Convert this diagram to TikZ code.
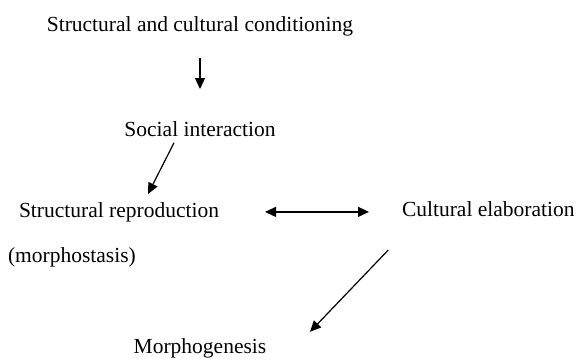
\documentclass[tikz,border=0pt]{standalone}
\usepackage{fontspec}
\setmainfont{Liberation Serif}
\usepackage{tikz}
\usetikzlibrary{arrows.meta, positioning}

\begin{document}
\begin{tikzpicture}[
        lbl/.style={inner sep=0pt, outer sep=0pt, text height=7.5pt, text depth=2.4pt, font=\fontsize{10.75pt}{13pt}\selectfont},
        arr/.style={-{Triangle[length=5.5pt, width=5pt]}, line width=0.6pt},
        darr/.style={{Triangle[length=5.5pt, width=5pt]}-{Triangle[length=5.5pt, width=5pt]}, line width=0.6pt}
      ]
        \useasboundingbox (0pt,0pt) rectangle (288pt,-179.5pt);

        \node[lbl, anchor=base] (cond) at (100pt,-15.5pt) {Structural and cultural conditioning};
        \node[lbl, below=42.6pt of cond] (inter) {Social interaction};
        \node[lbl, anchor=base west] (repro) at (9.5pt,-108.5pt) {Structural reproduction};
        \node[lbl, anchor=base west] (stasis) at (4pt,-131pt) {(morphostasis)};
        \node[lbl, anchor=base west] (elab) at (201pt,-108pt) {Cultural elaboration};
        \node[lbl, below=99pt of inter] (genesis) {Morphogenesis};

        \draw[arr, shorten <=11pt, shorten >=16pt] (cond.south) -- (cond.south |- inter.north);
        \draw[arr] ([xshift=-13pt, yshift=-1pt]inter.south) -- ([xshift=14.5pt, yshift=4pt]repro.north);
        \draw[darr, shorten <=23pt, shorten >=16.5pt] (repro.east) -- (repro.east -| elab.west);
        \draw[arr] ([xshift=-50pt, yshift=-14.6pt]elab.south) -- ([xshift=55pt, yshift=3.5pt]genesis.north);
      \end{tikzpicture}
\end{document}
